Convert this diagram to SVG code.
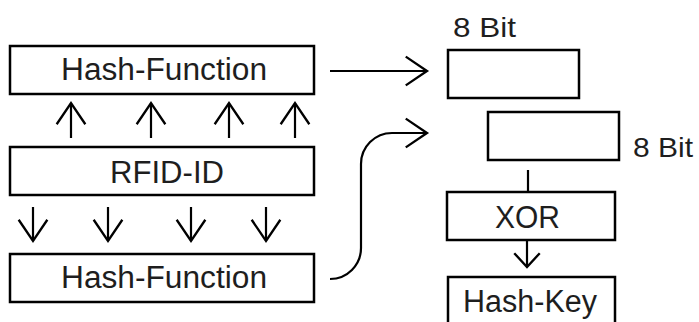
<svg xmlns="http://www.w3.org/2000/svg" width="699" height="322" viewBox="0 0 699 322">
<style>
.box{fill:#fff;stroke:#000;stroke-width:2.5}
.t{font-family:"Liberation Sans",Arial,sans-serif;font-size:31px;fill:#1e1e1e}
.s{font-size:28px}
.ln{fill:none;stroke:#000;stroke-width:2.2}
</style>
<defs>
<marker id="chev" markerUnits="userSpaceOnUse" markerWidth="30" markerHeight="34" viewBox="-22 -16 24 32" refX="0" refY="0" orient="auto">
<path d="M-20,-13.5 L0,0 L-20,13.5" fill="none" stroke="#000" stroke-width="2.2"/>
</marker>
<marker id="chev2" markerUnits="userSpaceOnUse" markerWidth="30" markerHeight="34" viewBox="-22 -16 24 32" refX="0" refY="0" orient="auto">
<path d="M-13,-12 L0,0 L-13,12" fill="none" stroke="#000" stroke-width="2.2"/>
</marker>
</defs>
<rect width="699" height="322" fill="#fff"/>
<g id="hash-top">
<rect class="box" x="10" y="46" width="304" height="48"/>
<text class="t" x="61" y="80" textLength="206" lengthAdjust="spacingAndGlyphs">Hash-Function</text>
</g>
<g id="rfid">
<rect class="box" x="10" y="147" width="304" height="48"/>
<text class="t" x="110" y="183" textLength="114" lengthAdjust="spacingAndGlyphs">RFID-ID</text>
</g>
<g id="hash-bottom">
<rect class="box" x="10" y="254" width="304" height="48"/>
<text class="t" x="61" y="288" textLength="206" lengthAdjust="spacingAndGlyphs">Hash-Function</text>
</g>
<g id="byte1">
<rect class="box" x="448" y="50" width="131" height="48"/>
<text class="t s" x="453" y="37" textLength="63" lengthAdjust="spacingAndGlyphs">8 Bit</text>
</g>
<g id="byte2">
<rect class="box" x="488" y="112" width="131" height="48"/>
<text class="t s" x="633" y="157" textLength="60" lengthAdjust="spacingAndGlyphs">8 Bit</text>
</g>
<g id="xor">
<rect class="box" x="447" y="192" width="168" height="48"/>
<text class="t" x="495" y="228" textLength="65" lengthAdjust="spacingAndGlyphs">XOR</text>
</g>
<g id="hash-key">
<rect class="box" x="448" y="277" width="167" height="60"/>
<text class="t" x="463" y="312" textLength="134" lengthAdjust="spacingAndGlyphs">Hash-Key</text>
</g>
<g id="connectors">
<line class="ln" x1="71" y1="138" x2="71" y2="103" marker-end="url(#chev)"/>
<line class="ln" x1="151" y1="138" x2="151" y2="103" marker-end="url(#chev)"/>
<line class="ln" x1="229" y1="138" x2="229" y2="103" marker-end="url(#chev)"/>
<line class="ln" x1="295" y1="138" x2="295" y2="103" marker-end="url(#chev)"/>
<line class="ln" x1="33" y1="207" x2="33" y2="241" marker-end="url(#chev)"/>
<line class="ln" x1="108" y1="207" x2="108" y2="241" marker-end="url(#chev)"/>
<line class="ln" x1="191" y1="207" x2="191" y2="241" marker-end="url(#chev)"/>
<line class="ln" x1="266" y1="207" x2="266" y2="241" marker-end="url(#chev)"/>
<line class="ln" x1="330" y1="71" x2="427" y2="71" marker-end="url(#chev)"/>
<path class="ln" d="M330,279 A31,31 0 0 0 361,248 L361,164 A31,31 0 0 1 392,133 L427,133" marker-end="url(#chev)"/>
<line class="ln" x1="528" y1="170" x2="528" y2="192"/>
<line class="ln" x1="527" y1="240" x2="527" y2="267" marker-end="url(#chev2)"/>
</g>
</svg>
